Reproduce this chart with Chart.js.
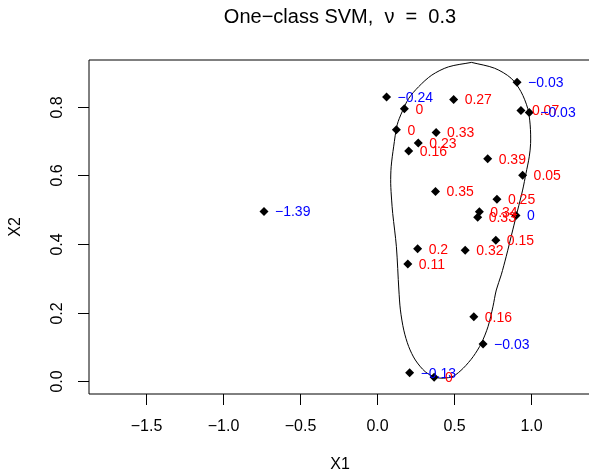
<!DOCTYPE html>
<html>
  <head>
    <meta charset="utf-8">
    <title>One-class SVM</title>
    <script src="https://cdn.jsdelivr.net/npm/chart.js@4.4.0/dist/chart.umd.min.js"></script>
    <style>
      html, body { margin: 0; padding: 0; background: #fff; overflow: hidden; }
      canvas { display: block; }
    </style>
  </head>
  <body>
    <canvas id="svm" width="589" height="475"></canvas>
    <script>
      // training points and their decision values
      var x1 = [0.908, 0.060, 0.496, 0.176, 0.933, 0.987, 0.124, 0.382, 0.266, 0.204, 0.717, 0.944, 0.378,
                0.777, 0.663, 0.652, 0.901, 0.770, 0.262, 0.571, 0.198, 0.627, 0.687, 0.210, 0.369, -0.736]
      var x2 = [0.871, 0.828, 0.821, 0.794, 0.789, 0.783, 0.733, 0.725, 0.694, 0.671, 0.648, 0.600, 0.553,
                0.530, 0.494, 0.478, 0.483, 0.411, 0.386, 0.382, 0.342, 0.188, 0.109, 0.025, 0.012, 0.495]
      var scores = [-0.03, -0.24, 0.27, 0, 0.07, -0.03, 0, 0.33, 0.23, 0.16, 0.39, 0.05, 0.35,
                    0.25, 0.34, 0.33, 0, 0.15, 0.2, 0.32, 0.11, 0.16, -0.03, -0.13, 0, -1.39]
      // true where the decision value is negative (before rounding)
      var outside = [true, true, false, false, false, true, false, false, false, false, false, false, false,
                     false, false, false, true, false, false, false, false, false, true, true, false, true]

      // decision boundary (contour at 0)
      var boundX = [0.612, 0.762, 0.869, 0.933, 0.977, 0.993, 0.996, 0.987, 0.966, 0.944, 0.912, 0.880, 0.837,
                    0.805, 0.773, 0.751, 0.719, 0.676, 0.623, 0.558, 0.494, 0.429, 0.375, 0.311, 0.247, 0.204,
                    0.172, 0.150, 0.140, 0.124, 0.100, 0.093, 0.087, 0.090, 0.106, 0.129, 0.161, 0.204, 0.268,
                    0.354, 0.462, 0.612]
      var boundY = [0.929, 0.912, 0.883, 0.844, 0.795, 0.747, 0.693, 0.654, 0.606, 0.557, 0.499, 0.441, 0.363,
                    0.310, 0.266, 0.217, 0.159, 0.111, 0.072, 0.038, 0.015, 0.009, 0.012, 0.028, 0.062, 0.101,
                    0.149, 0.208, 0.266, 0.392, 0.489, 0.528, 0.577, 0.625, 0.683, 0.747, 0.785, 0.824, 0.858,
                    0.892, 0.916, 0.929]

      var xTicks = [-1.5, -1.0, -0.5, 0.0, 0.5, 1.0]
      var yTicks = [0.0, 0.2, 0.4, 0.6, 0.8]

      var FONT = '"Liberation Sans", Arial, Helvetica, sans-serif'

      var pts = x1.map(function (v, i) { return { x: v, y: x2[i] } })
      var bound = boundX.map(function (v, i) { return { x: v, y: boundY[i] } })

      function fmt(v) {
        return String(v).replace('-', '\u2212')
      }

      var rPlot = {
        id: 'rPlot',
        afterDatasetsDraw: function (chart) {
          var ctx = chart.ctx
          var sx = chart.scales.x
          var sy = chart.scales.y
          ctx.save()
          ctx.font = '14px ' + FONT
          ctx.textAlign = 'left'
          ctx.textBaseline = 'middle'
          for (var i = 0; i < pts.length; i++) {
            ctx.fillStyle = outside[i] ? '#0000FF' : '#FF0000'
            ctx.fillText(fmt(scores[i]), sx.getPixelForValue(x1[i]) + 11, sy.getPixelForValue(x2[i]) + 1)
          }
          ctx.restore()
        },
        afterDraw: function (chart) {
          var ctx = chart.ctx
          var a = chart.chartArea
          var sx = chart.scales.x
          var sy = chart.scales.y
          var w = chart.width + 5
          ctx.save()
          ctx.strokeStyle = '#000'
          ctx.lineWidth = 1
          // box: the right edge falls outside the picture
          ctx.beginPath()
          ctx.moveTo(w, a.top)
          ctx.lineTo(a.left, a.top)
          ctx.lineTo(a.left, a.bottom)
          ctx.lineTo(w, a.bottom)
          ctx.stroke()

          ctx.fillStyle = '#000'
          ctx.font = '16px ' + FONT
          // x axis
          ctx.textAlign = 'center'
          ctx.textBaseline = 'middle'
          xTicks.forEach(function (t) {
            var px = Math.round(sx.getPixelForValue(t)) + 0.5
            ctx.beginPath()
            ctx.moveTo(px, a.bottom)
            ctx.lineTo(px, a.bottom + 11)
            ctx.stroke()
            ctx.fillText(fmt(t.toFixed(1)), px, 427)
          })
          // y axis
          yTicks.forEach(function (t) {
            var py = Math.round(sy.getPixelForValue(t)) + 0.5
            ctx.beginPath()
            ctx.moveTo(a.left, py)
            ctx.lineTo(a.left - 11, py)
            ctx.stroke()
            ctx.save()
            ctx.translate(58, py)
            ctx.rotate(-Math.PI / 2)
            ctx.fillText(t.toFixed(1), 0, 0)
            ctx.restore()
          })
          // axis titles
          ctx.fillText('X1', 340, 465)
          ctx.save()
          ctx.translate(16, (a.top + a.bottom) / 2)
          ctx.rotate(-Math.PI / 2)
          ctx.fillText('X2', 0, 0)
          ctx.restore()
          // title
          ctx.font = '20px ' + FONT
          ctx.textBaseline = 'alphabetic'
          ctx.fillText('One\u2212class SVM,  \u03BD  =  0.3', 340, 23)
          ctx.restore()
        }
      }

      var chart = new Chart(document.getElementById('svm').getContext('2d'), {
        type: 'scatter',
        data: {
          datasets: [{
            data: pts,
            pointStyle: 'rectRot',
            pointRadius: 4.5,
            backgroundColor: '#000',
            borderColor: '#000',
            borderWidth: 0
          }, {
            data: bound,
            showLine: true,
            tension: 0.3,
            pointRadius: 0,
            borderColor: '#000',
            borderWidth: 1,
            fill: false
          }]
        },
        options: {
          responsive: false,
          animation: false,
          events: [],
          layout: { padding: { left: 89, top: 60, right: 0, bottom: 81 } },
          plugins: { legend: { display: false }, tooltip: { enabled: false } },
          scales: {
            x: { type: 'linear', min: -1.873, max: 1.346, display: false },
            y: { type: 'linear', min: -0.037, max: 0.936, display: false }
          }
        },
        plugins: [rPlot]
      })
    </script>
  </body>
</html>
